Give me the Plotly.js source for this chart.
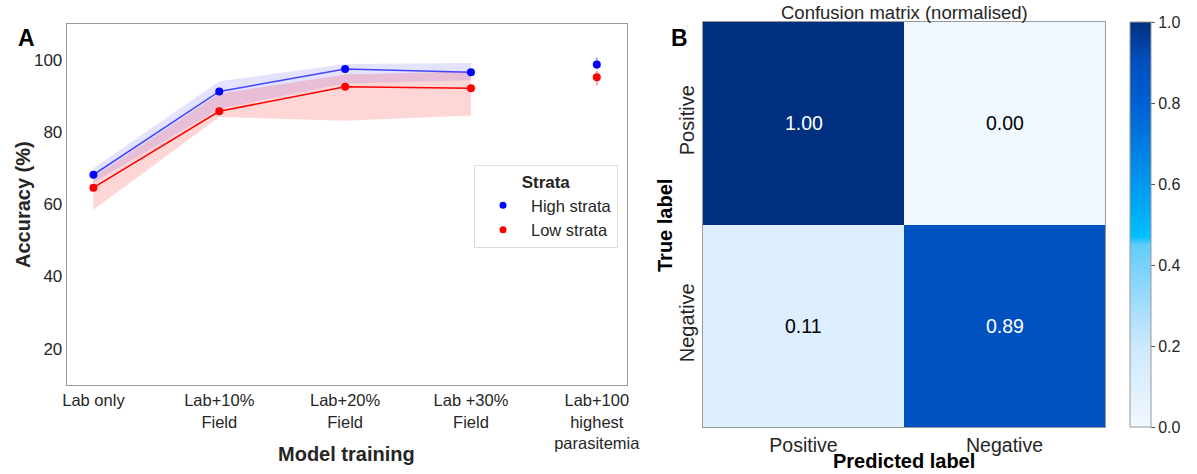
<!DOCTYPE html>
<html>
<head>
<meta charset="utf-8">
<script src="https://cdn.plot.ly/plotly-3.0.1.min.js"></script>
<style>html,body{margin:0;padding:0;background:#fff;}#chart{width:1197px;height:474px;}</style>
</head>
<body>
<div id="chart"></div>
<script>
// ---- Panel A data ----
const categoryIdx = [0, 1, 2, 3, 4];
const tickLabels = ['Lab only', 'Lab+10%<br>Field', 'Lab+20%<br>Field', 'Lab +30%<br>Field', 'Lab+100<br>highest<br>parasitemia'];
const lineIdx = [0, 1, 2, 3];
const highMean = [68.2, 91.3, 97.5, 96.6];
const highLower = [66.0, 86.5, 93.5, 94.4];
const highUpper = [70.0, 94.1, 98.9, 99.2];
const lowMean = [64.6, 85.8, 92.6, 92.2];
const lowLower = [58.5, 84.2, 83.2, 84.6];
const lowUpper = [67.5, 90.7, 96.0, 96.9];
const lastIdx = [4];
const highLast = [98.8];
const highLastLo = [97.4];
const highLastHi = [100.7];
const lowLast = [95.2];
const lowLastLo = [93.0];
const lowLastHi = [97.0];
const yTicks = [20, 40, 60, 80, 100];

// ---- Panel B data ----
const cmLabels = ['Positive', 'Negative'];
const cmValues = [[1.00, 0.00], [0.11, 0.89]];
const cbTicks = [0, 0.2, 0.4, 0.6, 0.8, 1.0];

const FONT = 'Liberation Sans, Arial, sans-serif';
const TXT = '#262626';
const W = 1197, H = 474;
const px = v => v / W, py = v => 1 - v / H;

function band(xs, up, lo, color) {
  return {
    x: xs.concat(xs.slice().reverse()),
    y: up.concat(lo.slice().reverse()),
    fill: 'toself', fillcolor: color, mode: 'lines', line: {width: 0},
    hoverinfo: 'skip', showlegend: false, xaxis: 'x', yaxis: 'y'
  };
}

const traces = [
  band(lineIdx, highUpper, highLower, 'rgba(0,0,255,0.11)'),
  band(lineIdx, lowUpper, lowLower, 'rgba(255,0,0,0.16)'),
  {x: lineIdx, y: highMean, mode: 'lines+markers', line: {color: 'rgba(40,40,255,0.85)', width: 1.5},
   marker: {color: '#0000ff', size: 8}, showlegend: false, xaxis: 'x', yaxis: 'y'},
  {x: lineIdx, y: lowMean, mode: 'lines+markers', line: {color: '#ff0000', width: 1.5},
   marker: {color: '#ff0000', size: 8}, showlegend: false, xaxis: 'x', yaxis: 'y'},
  {x: lastIdx, y: highLast, mode: 'markers', marker: {color: '#0000ff', size: 8},
   error_y: {type: 'data', symmetric: false,
     array: highLastHi.map((v, i) => v - highLast[i]), arrayminus: highLast.map((v, i) => v - highLastLo[i]),
     color: 'rgba(60,60,255,0.5)', thickness: 2, width: 0},
   showlegend: false, xaxis: 'x', yaxis: 'y'},
  {x: lastIdx, y: lowLast, mode: 'markers', marker: {color: '#ff0000', size: 8},
   error_y: {type: 'data', symmetric: false,
     array: lowLastHi.map((v, i) => v - lowLast[i]), arrayminus: lowLast.map((v, i) => v - lowLastLo[i]),
     color: 'rgba(255,60,60,0.5)', thickness: 2, width: 0},
   showlegend: false, xaxis: 'x', yaxis: 'y'},
  {x: [null], y: [null], mode: 'markers', name: 'High strata', marker: {color: '#0000ff', size: 7}, xaxis: 'x', yaxis: 'y'},
  {x: [null], y: [null], mode: 'markers', name: 'Low strata', marker: {color: '#ff0000', size: 7}, xaxis: 'x', yaxis: 'y'},
  {
    type: 'heatmap', z: cmValues, x: cmLabels, y: cmLabels, xaxis: 'x2', yaxis: 'y2',
    zmin: 0, zmax: 1, showscale: true, hoverinfo: 'skip',
    colorscale: [[0, '#F0F8FF'], [0.2, '#CDE8FD'], [0.45, '#62CCFB'], [0.47, '#00BFFF'],
                 [0.6, '#0098EC'], [0.8, '#0060D2'], [0.9, '#0050BE'], [1, '#00307F']],
    colorbar: {
      x: px(1130), xanchor: 'left', thickness: 21, thicknessmode: 'pixels', xpad: 0, ypad: 0,
      len: (427 - 22) / H, lenmode: 'fraction', y: py(22), yanchor: 'top',
      outlinewidth: 1, outlinecolor: '#999', tickvals: cbTicks, ticktext: cbTicks.map(v => v.toFixed(1)),
      ticks: 'outside', ticklen: 4, tickcolor: '#555', tickfont: {size: 16, color: TXT, family: FONT}
    }
  }
];

function ann(text, x, y, size, color, angle) {
  return {text: text, x: px(x), y: py(y), xref: 'paper', yref: 'paper', xanchor: 'center', yanchor: 'middle',
    showarrow: false, textangle: angle || 0, font: {size: size, color: color, family: FONT}};
}
const annotations = [
  ann('<b>A</b>', 26, 38, 23, '#000'),
  ann('<b>B</b>', 679, 38, 23, '#000'),
  ann('<b>Accuracy (%)</b>', 23, 205, 20, TXT, -90),
  ann('<b>Model training</b>', 346, 454, 20, TXT),
  ann('Confusion matrix (normalised)', 904, 12, 18.5, TXT),
  ann('<b>True label</b>', 665, 226, 20, '#000', -90),
  ann('<b>Predicted label</b>', 904, 461, 20, '#000')
];
cmValues.forEach((row, i) => row.forEach((v, j) => {
  annotations.push({text: v.toFixed(2), x: cmLabels[j], y: cmLabels[i], xref: 'x2', yref: 'y2', showarrow: false,
    xanchor: 'center', yanchor: 'middle',
    font: {size: 19.5, color: v > 0.5 ? '#ffffff' : '#000000', family: FONT}});
}));

const layout = {
  width: W, height: H, margin: {l: 0, r: 0, t: 0, b: 0},
  paper_bgcolor: '#fff', plot_bgcolor: '#fff',
  font: {family: FONT, color: TXT},
  showlegend: true,
  legend: {
    x: px(474), y: py(165), xanchor: 'left', yanchor: 'top', bgcolor: '#fff', bordercolor: '#ddd', borderwidth: 1,
    title: {text: '<b>Strata</b>', side: 'top center', font: {size: 17, color: TXT, family: FONT}},
    font: {size: 16.5, color: TXT, family: FONT}, itemwidth: 46, tracegroupgap: 0
  },
  xaxis: {
    domain: [px(67), px(627)], range: [-0.21, 4.24], tickvals: categoryIdx, ticktext: tickLabels,
    showgrid: false, zeroline: false, showline: true, mirror: true, linecolor: '#999', linewidth: 1.3,
    ticks: '', tickfont: {size: 16.5, color: TXT, family: FONT}, anchor: 'y'
  },
  yaxis: {
    domain: [py(385), py(24)], range: [9.9, 110], tickvals: yTicks,
    showgrid: false, zeroline: false, showline: true, mirror: true, linecolor: '#999', linewidth: 1.3,
    ticks: '', tickfont: {size: 17, color: TXT, family: FONT}, anchor: 'x'
  },
  xaxis2: {
    domain: [px(703), px(1105)], anchor: 'y2', showgrid: false, zeroline: false, showline: true, mirror: true,
    linecolor: '#999', linewidth: 1.3, ticks: '', tickfont: {size: 19.5, color: TXT, family: FONT}
  },
  yaxis2: {
    domain: [py(427), py(22)], anchor: 'x2', autorange: 'reversed', showgrid: false, zeroline: false, showline: true, mirror: true,
    linecolor: '#999', linewidth: 1.3, ticks: '', tickangle: -90, tickfont: {size: 20, color: TXT, family: FONT}
  },
  annotations: annotations
};

Plotly.newPlot('chart', traces, layout, {displayModeBar: false, staticPlot: true});
</script>
</body>
</html>
